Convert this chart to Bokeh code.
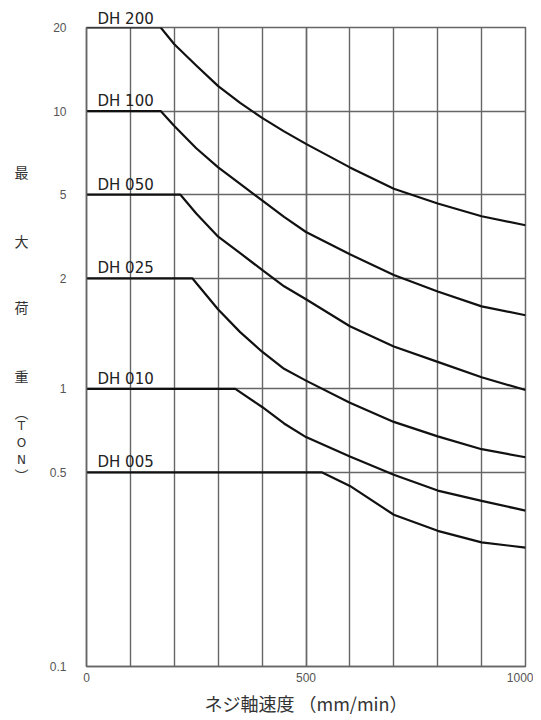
from bokeh.plotting import figure
from bokeh.layouts import row
from bokeh.models import Range1d, FixedTicker, Label, ColumnDataSource
from bokeh.core.properties import value
from bokeh.embed import file_html
from bokeh.resources import INLINE

# ---- data ----
models = ["DH 200", "DH 100", "DH 050", "DH 025", "DH 010", "DH 005"]
rated_load = [20, 10, 5, 2.5, 1, 0.5]

speed_200 = [0, 169, 200, 250, 300, 350, 400, 450, 500, 600, 700, 800, 900, 1000]
load_200 = [20, 20, 17.4, 14.6, 12.3, 10.7, 9.45, 8.45, 7.62, 6.27, 5.25, 4.65, 4.18, 3.88]

speed_100 = [0, 169, 200, 250, 300, 350, 400, 450, 500, 600, 700, 800, 900, 1000]
load_100 = [10, 10, 8.84, 7.35, 6.27, 5.47, 4.77, 4.16, 3.67, 3.05, 2.57, 2.24, 1.98, 1.84]

speed_050 = [0, 214, 250, 300, 350, 400, 450, 500, 600, 700, 800, 900, 1000]
load_050 = [5, 5, 4.28, 3.53, 3.08, 2.68, 2.34, 2.10, 1.68, 1.42, 1.25, 1.10, 0.99]

speed_025 = [0, 241, 300, 350, 400, 450, 500, 600, 700, 800, 900, 1000]
load_025 = [2.5, 2.5, 1.93, 1.60, 1.36, 1.18, 1.07, 0.89, 0.76, 0.674, 0.606, 0.567]

speed_010 = [0, 339, 400, 450, 500, 600, 700, 800, 900, 1000]
load_010 = [1, 1, 0.86, 0.75, 0.67, 0.57, 0.49, 0.43, 0.395, 0.364]

speed_005 = [0, 537, 600, 700, 800, 900, 1000]
load_005 = [0.5, 0.5, 0.447, 0.352, 0.308, 0.28, 0.268]

x_ticks = [0, 500, 1000]
x_grid = [0, 100, 200, 300, 400, 500, 600, 700, 800, 900, 1000]
y_ticks = [0.1, 0.5, 1, 2.5, 5, 10, 20]
y_tick_labels = ["0.1", "0.5", "1", "2", "5", "10", "20"]

x_title = "ネジ軸速度 （mm/min）"
y_title_chars = ["最", "大", "荷", "重", "︵", "T", "O", "N", "︶"]

# ---- layout constants ----
H = 718
LW = 36                 # width of the strip holding the vertical title
W = 533 - LW
TOP, BOTTOM = 27, 48
LEFT = 86 - LW

# ---- strip with the upright vertical y-axis title (its frame is aligned with the chart's) ----
side = figure(width=LW, height=H, output_backend="svg", toolbar_location=None,
              x_range=Range1d(0, LW), y_range=Range1d(H - BOTTOM, TOP),
              min_border_left=0, min_border_right=0,
              min_border_top=TOP, min_border_bottom=BOTTOM,
              x_axis_type=None, y_axis_type=None)
side.outline_line_color = None
side.grid.visible = False
side.background_fill_color = "white"
side.border_fill_color = "white"

title_y = [172, 242, 308, 378, 414, 428, 445, 462, 477]
is_cjk = [c not in ("T", "O", "N") for c in y_title_chars]
cjk_src = ColumnDataSource(dict(
    x=[21] * sum(is_cjk),
    y=[yy for yy, k in zip(title_y, is_cjk) if k],
    t=[c for c, k in zip(y_title_chars, is_cjk) if k]))
lat_src = ColumnDataSource(dict(
    x=[21] * (len(is_cjk) - sum(is_cjk)),
    y=[yy for yy, k in zip(title_y, is_cjk) if not k],
    t=[c for c, k in zip(y_title_chars, is_cjk) if not k]))
side.text(x="x", y="y", text="t", source=cjk_src, text_align="center",
          text_baseline="middle", text_font=value("Noto Sans CJK JP"),
          text_font_size="14px", text_color="#333333")
side.text(x="x", y="y", text="t", source=lat_src, text_align="center",
          text_baseline="middle", text_font=value("DejaVu Sans"),
          text_font_size="12px", text_color="#333333")

# ---- main chart ----
p = figure(width=W, height=H, output_backend="svg", toolbar_location=None,
           y_axis_type="log", x_range=Range1d(0, 1000), y_range=Range1d(0.1, 20),
           min_border_left=LEFT, min_border_right=8, min_border_top=TOP,
           min_border_bottom=40)
p.background_fill_color = "white"
p.border_fill_color = "white"
p.outline_line_color = "#666666"
p.outline_line_width = 1.5

grid_color = "#666666"
p.xaxis.ticker = FixedTicker(ticks=x_ticks, minor_ticks=x_grid)
p.yaxis.ticker = FixedTicker(ticks=y_ticks, minor_ticks=[])
p.xgrid.grid_line_color = grid_color
p.xgrid.grid_line_width = 1.4
p.xgrid.minor_grid_line_color = grid_color
p.xgrid.minor_grid_line_width = 1.4
p.ygrid.grid_line_color = grid_color
p.ygrid.grid_line_width = 1.4
p.ygrid.minor_grid_line_color = None

for ax in (p.xaxis, p.yaxis):
    ax.axis_line_color = grid_color
    ax.axis_line_width = 1.5
    ax.major_tick_line_color = None
    ax.minor_tick_line_color = None
    ax.major_tick_out = 0
    ax.major_tick_in = 0
    ax.minor_tick_out = 0
    ax.major_label_text_font = "Liberation Sans"
    ax.major_label_text_font_size = "12px"
    ax.major_label_text_color = "#555555"

p.yaxis.major_label_overrides = {t: l for t, l in zip(y_ticks, y_tick_labels)}
p.yaxis.major_label_standoff = 20
p.xaxis.major_label_standoff = 6

p.xaxis.axis_label = x_title
p.xaxis.axis_label_text_font = "Noto Sans CJK JP"
p.xaxis.axis_label_text_font_style = "normal"
p.xaxis.axis_label_text_font_size = "18px"
p.xaxis.axis_label_text_color = "#333333"
p.xaxis.axis_label_standoff = 5

# curves
series = [(speed_200, load_200), (speed_100, load_100), (speed_050, load_050),
          (speed_025, load_025), (speed_010, load_010), (speed_005, load_005)]
for xs, ys in series:
    p.line(xs, ys, line_color="#111111", line_width=2.2, line_join="round")

# top model name sits above the frame: use the plot title for it
p.title.text = models[0]
p.title.align = "left"
p.title.offset = 11
p.title.standoff = 0
p.title.text_font = "DejaVu Sans"
p.title.text_font_style = "normal"
p.title.text_font_size = "15px"
p.title.text_color = "#222222"

# other model labels above their flat segments
for name, load in zip(models[1:], rated_load[1:]):
    p.add_layout(Label(x=0, y=load, x_offset=11, y_offset=1, text=name,
                       text_font="DejaVu Sans", text_font_size="15px",
                       text_color="#222222", text_baseline="bottom",
                       text_align="left"))

layout = row(side, p, spacing=0)
open("out.html", "w").write(file_html(layout, INLINE))
